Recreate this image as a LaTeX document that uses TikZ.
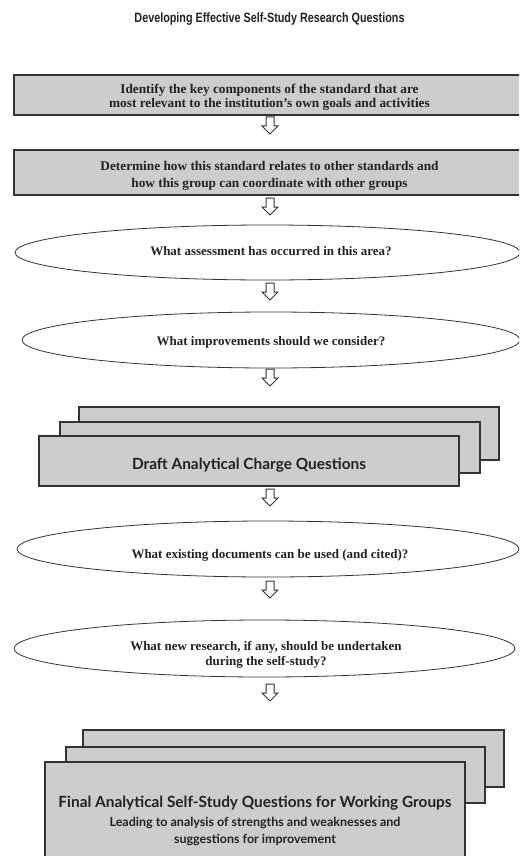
\documentclass[tikz,border=0pt]{standalone}
\usepackage{fontspec}
\setmainfont{Liberation Serif}
\newfontfamily\hsans{Lato}
\newfontfamily\titlefont{Liberation Sans}
\usetikzlibrary{shapes.geometric}
\definecolor{boxgray}{HTML}{CDCDCD}
\definecolor{edge}{HTML}{333333}
\definecolor{ink}{HTML}{222222}
\begin{document}
\begin{tikzpicture}[x=1pt,y=-1pt,
  stepbox/.style={draw=edge, line width=1.2pt, fill=boxgray, rectangle, inner sep=0pt},
  question/.style={draw=edge, line width=0.8pt, fill=white, ellipse, inner sep=0pt},
  serifbold/.style={text=ink, align=center, inner sep=0pt, font=\bfseries\fontsize{13.3}{13.5}\selectfont},
  qtext/.style={text=ink, align=center, inner sep=0pt, font=\bfseries\fontsize{13}{15.5}\selectfont},
  sanstext/.style={text=ink, align=center, inner sep=0pt, font=\hsans\bfseries\fontsize{12.5}{16.8}\selectfont},
  downarrow/.pic={\draw[edge, line width=1pt, fill=white, line join=miter]
     (-4,0) -- (4,0) -- (4,9) -- (8,9) -- (0,17) -- (-8,9) -- (-4,9) -- cycle;}
]
\useasboundingbox (0,0) rectangle (519,856);
\fill[white] (0,0) rectangle (519,856);
\begin{scope}
\clip (0,0) rectangle (519,856);

\node[text=ink, font=\titlefont\bfseries\fontsize{13.5}{15}\selectfont] (title) at (269.5,19.5)
  {\scalebox{0.8}[1]{Developing Effective Self-Study Research Questions}};

% step 1
\node[stepbox, minimum width=511pt, minimum height=40pt] (b1) at (269.5,95) {};
\node[serifbold] (b1t) at (269.5,97.5)
  {Identify the key components of the standard that are\\most relevant to the institution's own goals and activities};
\pic (a1) at (270,117) {downarrow};

% step 2
\node[stepbox, minimum width=511pt, minimum height=45pt] (b2) at (269.5,172.5) {};
\node[serifbold, font=\bfseries\fontsize{13.3}{17.6}\selectfont] (b2t) at (269.5,176)
  {Determine how this standard relates to other standards and\\how this group can coordinate with other groups};
\pic (a2) at (270,198) {downarrow};

% question 1
\node[question, minimum width=505pt, minimum height=55pt] (e1) at (267.5,252.5) {};
\node[qtext] (e1t) at (271,251.5) {What assessment has occurred in this area?};
\pic (a3) at (270,283) {downarrow};

% question 2
\node[question, minimum width=498pt, minimum height=56pt] (e2) at (271,340) {};
\node[qtext] (e2t) at (271,342) {What improvements should we consider?};
\pic (a4) at (270,369) {downarrow};

% draft stack
\node[stepbox, minimum width=420pt, minimum height=53pt] (d3) at (289,433.5) {};
\node[stepbox, minimum width=420pt, minimum height=51pt] (d2) at (270,447.5) {};
\node[stepbox, minimum width=420pt, minimum height=50pt] (d1) at (249,461) {};
\node[sanstext, font=\hsans\bfseries\fontsize{15.4}{17}\selectfont] (d1t) at (249,465.5)
  {Draft Analytical Charge Questions};
\pic (a5) at (270,489) {downarrow};

% question 3
\node[question, minimum width=502pt, minimum height=56pt] (e3) at (268,549) {};
\node[qtext] (e3t) at (270,555) {What existing documents can be used (and cited)?};
\pic (a6) at (270,581) {downarrow};

% question 4
\node[question, minimum width=501pt, minimum height=57pt] (e4) at (264.5,648.5) {};
\node[qtext] (e4t) at (266,655)
  {What new research, if any, should be undertaken\\during the self-study?};
\pic (a7) at (270,684) {downarrow};

% final stack
\node[stepbox, minimum width=421pt, minimum height=57pt] (f3) at (293.5,758.5) {};
\node[stepbox, minimum width=419pt, minimum height=56pt] (f2) at (275.5,775) {};
\node[stepbox, minimum width=420pt, minimum height=116pt] (f1) at (255,820) {};
\node[sanstext] (f1t) at (255,821)
  {{\fontsize{15.4}{17}\selectfont Final Analytical Self-Study Questions for Working Groups}\\[2pt]
   Leading to analysis of strengths and weaknesses and\\
   suggestions for improvement};
\end{scope}
\end{tikzpicture}
\end{document}
